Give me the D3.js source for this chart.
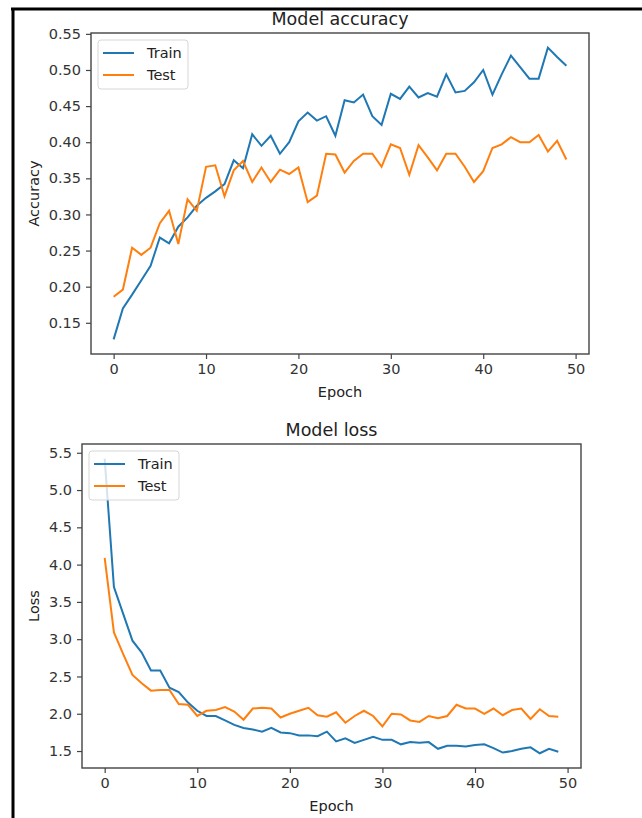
<!DOCTYPE html>
<html>
<head>
<meta charset="utf-8">
<script src="https://cdn.jsdelivr.net/npm/d3@7"></script>
<style>
  body { margin: 0; background: #fff; }
  svg { display: block; font-family: "DejaVu Sans", sans-serif; }
  .tick text { fill: #333; }
</style>
</head>
<body>
<div id="graph"></div>
<script>
// data, one value per epoch (0..49)
const accTrain = [0.127, 0.170, 0.189, 0.209, 0.229, 0.268, 0.260, 0.283, 0.296, 0.312,
                  0.323, 0.332, 0.342, 0.375, 0.364, 0.411, 0.395, 0.409, 0.384, 0.400,
                  0.429, 0.441, 0.430, 0.436, 0.409, 0.458, 0.455, 0.466, 0.436, 0.424,
                  0.467, 0.460, 0.477, 0.462, 0.468, 0.463, 0.494, 0.469, 0.471, 0.483,
                  0.500, 0.466, 0.494, 0.520, 0.504, 0.488, 0.488, 0.531, 0.518, 0.506];
const accTest = [0.186, 0.196, 0.254, 0.244, 0.254, 0.288, 0.305, 0.259, 0.321, 0.305,
                 0.366, 0.368, 0.325, 0.361, 0.374, 0.345, 0.365, 0.345, 0.362, 0.356,
                 0.365, 0.317, 0.326, 0.384, 0.383, 0.358, 0.374, 0.384, 0.384, 0.366,
                 0.397, 0.392, 0.355, 0.396, 0.379, 0.361, 0.384, 0.384, 0.366, 0.345,
                 0.360, 0.392, 0.397, 0.407, 0.400, 0.400, 0.410, 0.387, 0.402, 0.376];
const lossTrain = [5.42, 3.70, 3.34, 2.98, 2.82, 2.58, 2.58, 2.35, 2.29, 2.15,
                   2.04, 1.97, 1.97, 1.91, 1.85, 1.81, 1.79, 1.76, 1.81, 1.75,
                   1.74, 1.71, 1.71, 1.70, 1.76, 1.63, 1.67, 1.61, 1.65, 1.69,
                   1.65, 1.65, 1.59, 1.62, 1.61, 1.62, 1.53, 1.57, 1.57, 1.56,
                   1.58, 1.59, 1.54, 1.48, 1.50, 1.53, 1.55, 1.47, 1.53, 1.49];
const lossTest = [4.09, 3.09, 2.80, 2.52, 2.41, 2.31, 2.32, 2.32, 2.13, 2.12,
                  1.97, 2.04, 2.05, 2.09, 2.03, 1.92, 2.07, 2.08, 2.07, 1.95,
                  2.00, 2.04, 2.08, 1.98, 1.96, 2.02, 1.88, 1.97, 2.04, 1.97,
                  1.83, 2.00, 1.99, 1.91, 1.89, 1.97, 1.94, 1.97, 2.12, 2.07,
                  2.07, 2.00, 2.07, 1.98, 2.05, 2.07, 1.93, 2.06, 1.97, 1.96];

const epochTicks = [0, 10, 20, 30, 40, 50];
const accTicks = [0.15, 0.20, 0.25, 0.30, 0.35, 0.40, 0.45, 0.50, 0.55];
const lossTicks = [1.5, 2.0, 2.5, 3.0, 3.5, 4.0, 4.5, 5.0, 5.5];
const seriesNames = ["Train", "Test"];
const colors = ["#1f77b4", "#ff7f0e"];

let w = 642, h = 818;

const svg = d3.select("#graph").append("svg")
  .attr("width", w)
  .attr("height", h);

// screenshot frame
svg.append("line")
  .attr("x1", 11).attr("x2", w).attr("y1", 9).attr("y2", 9)
  .style("stroke", "#000").style("stroke-width", 3);
svg.append("line")
  .attr("x1", 13).attr("x2", 13).attr("y1", 8).attr("y2", h)
  .style("stroke", "#000").style("stroke-width", 3);

// matplotlib style 5% margins
function padded(lo, hi) {
  const m = (hi - lo) * 0.05;
  return [lo - m, hi + m];
}

function makeChart(opts) {
  const { left, right, top, bottom, series, title, ylabel, yTicks, yFmt } = opts;
  const n = series[0].length;

  let xScale = d3.scaleLinear()
    .domain(padded(0, n - 1))
    .range([left, right]);

  const all = series.flat();
  let yScale = d3.scaleLinear()
    .domain(padded(d3.min(all), d3.max(all)))
    .range([bottom, top]);

  const g = svg.append("g");

  let line = d3.line()
    .x((d, i) => xScale(i))
    .y(d => yScale(d));

  series.forEach((s, k) => {
    g.append("path")
      .datum(s)
      .attr("d", line)
      .style("stroke", colors[k])
      .style("stroke-width", "2px")
      .style("fill", "none");
  });

  let xAxis = d3.axisBottom(xScale)
    .tickValues(epochTicks)
    .tickSize(5)
    .tickPadding(5)
    .tickFormat(d3.format("d"));
  let yAxis = d3.axisLeft(yScale)
    .tickValues(yTicks)
    .tickSize(5)
    .tickPadding(5)
    .tickFormat(d3.format(yFmt));

  const xg = g.append("g")
    .attr("transform", `translate(0, ${bottom})`)
    .call(xAxis);
  const yg = g.append("g")
    .attr("transform", `translate(${left}, 0)`)
    .call(yAxis);

  [xg, yg].forEach(a => {
    a.select(".domain").remove();
    a.selectAll(".tick line").style("stroke", "#444").style("stroke-width", 1.2);
    a.selectAll(".tick text").style("font-size", "14.5px").style("font-family", "DejaVu Sans");
  });

  // frame
  g.append("rect")
    .attr("x", left).attr("y", top)
    .attr("width", right - left).attr("height", bottom - top)
    .style("fill", "none")
    .style("stroke", "#444")
    .style("stroke-width", 1.4);

  g.append("text")
    .attr("x", (left + right) / 2)
    .attr("y", top - 8)
    .attr("text-anchor", "middle")
    .style("font-size", "17.5px")
    .style("fill", "#222")
    .text(title);

  g.append("text")
    .attr("x", (left + right) / 2)
    .attr("y", bottom + 43)
    .attr("text-anchor", "middle")
    .style("font-size", "14.5px")
    .style("fill", "#222")
    .text("Epoch");

  g.append("text")
    .attr("transform", `translate(39, ${(top + bottom) / 2}) rotate(-90)`)
    .attr("text-anchor", "middle")
    .style("font-size", "14.5px")
    .style("fill", "#222")
    .text(ylabel);

  // legend
  const lx = left + 7, ly = top + 7;
  const leg = g.append("g").attr("transform", `translate(${lx}, ${ly})`);
  leg.append("rect")
    .attr("width", 90).attr("height", 49)
    .attr("rx", 3)
    .style("fill", "#fff")
    .style("fill-opacity", 0.8)
    .style("stroke", "#d6d6d6");
  seriesNames.forEach((name, k) => {
    const yy = 13 + k * 22;
    leg.append("line")
      .attr("x1", 5).attr("x2", 36)
      .attr("y1", yy).attr("y2", yy)
      .style("stroke", colors[k])
      .style("stroke-width", "2px");
    leg.append("text")
      .attr("x", 49).attr("y", yy + 5)
      .style("font-size", "14.5px")
      .style("fill", "#222")
      .text(name);
  });
}

makeChart({
  left: 91, right: 589, top: 33, bottom: 354,
  series: [accTrain, accTest],
  title: "Model accuracy", ylabel: "Accuracy",
  yTicks: accTicks, yFmt: ".2f"
});

makeChart({
  left: 82, right: 581, top: 444, bottom: 768,
  series: [lossTrain, lossTest],
  title: "Model loss", ylabel: "Loss",
  yTicks: lossTicks, yFmt: ".1f"
});
</script>
</body>
</html>
